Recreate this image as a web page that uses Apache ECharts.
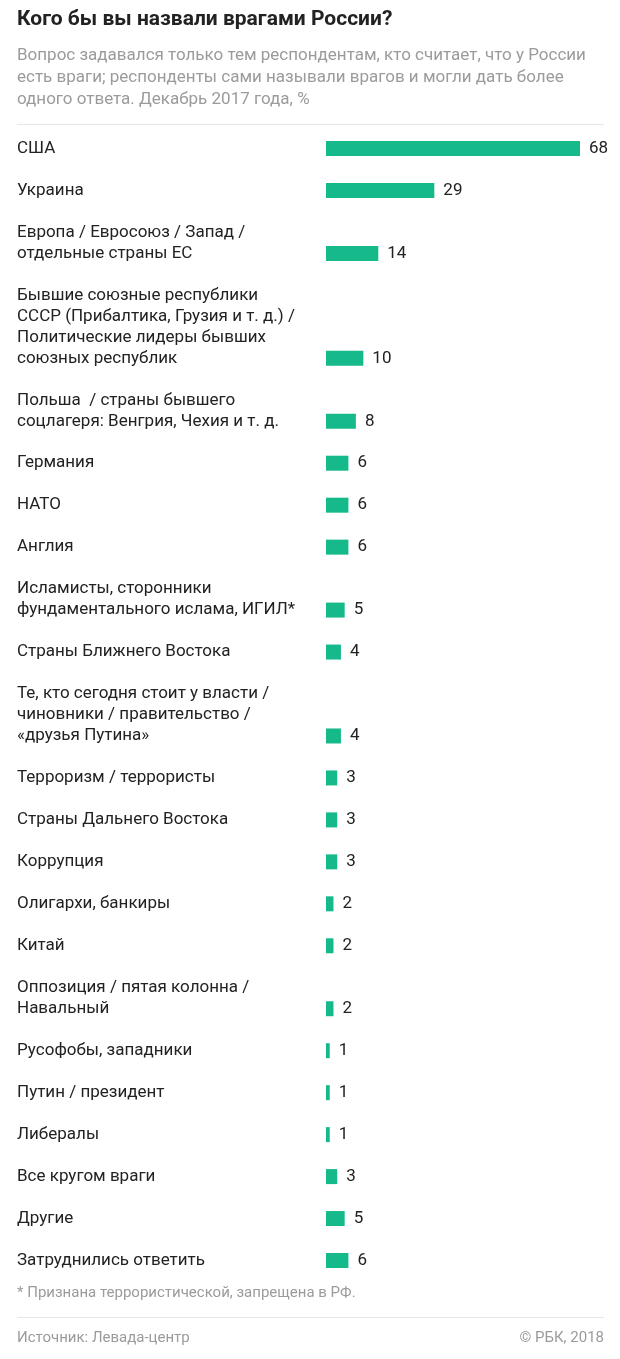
<!DOCTYPE html>
<html>
<head>
<meta charset="utf-8">
<title>Кого бы вы назвали врагами России?</title>
<script src="https://cdn.jsdelivr.net/npm/echarts@6/dist/echarts.min.js"></script>
<style>
    html, body { margin: 0; padding: 0; background: #fff; }
    #chart { width: 620px; height: 1359px; }
</style>
</head>
<body>
<div id="chart"></div>
<script>
// названия (перенос строки = \n, как на картинке)
var categories = [
    'США',
    'Украина',
    'Европа / Евросоюз / Запад /\nотдельные страны ЕС',
    'Бывшие союзные республики\nСССР (Прибалтика, Грузия и т. д.) /\nПолитические лидеры бывших\nсоюзных республик',
    'Польша  / страны бывшего\nсоцлагеря: Венгрия, Чехия и т. д.',
    'Германия',
    'НАТО',
    'Англия',
    'Исламисты, сторонники\nфундаментального ислама, ИГИЛ*',
    'Страны Ближнего Востока',
    'Те, кто сегодня стоит у власти /\nчиновники / правительство /\n«друзья Путина»',
    'Терроризм / террористы',
    'Страны Дальнего Востока',
    'Коррупция',
    'Олигархи, банкиры',
    'Китай',
    'Оппозиция / пятая колонна /\nНавальный',
    'Русофобы, западники',
    'Путин / президент',
    'Либералы',
    'Все кругом враги',
    'Другие',
    'Затруднились ответить'
];

var values = [68, 29, 14, 10, 8, 6, 6, 6, 5, 4, 4, 3, 3, 3, 2, 2, 2, 1, 1, 1, 3, 5, 6];

var titleText = 'Кого бы вы назвали врагами России?';
var subText = 'Вопрос задавался только тем респондентам, кто считает, что у России\n' +
    'есть враги; респонденты сами называли врагов и могли дать более\n' +
    'одного ответа. Декабрь 2017 года, %';
var noteText = '* Признана террористической, запрещена в РФ.';
var sourceText = 'Источник: Левада-центр';
var copyText = '© РБК, 2018';

var FONT = 'Roboto, "Noto Sans", sans-serif';

// раскладываем по строкам: у многострочной подписи столбец стоит на последней строке,
// между пунктами одна пустая строка
function buildSlots(){
    var ids = [], labels = [], data = [];
    for (var i = 0; i < categories.length; i++) {
        var lines = categories[i].split('\n');
        for (var k = 0; k < lines.length - 1; k++) {
            ids.push('s' + ids.length);
            labels.push('');
            data.push('-');
        }
        // добиваем пустыми строками снизу, чтобы последняя строка была по центру
        var txt = categories[i];
        for (var j = 0; j < lines.length - 1; j++) {
            txt += '\n ';
        }
        ids.push('s' + ids.length);
        labels.push(txt);
        data.push(values[i]);
        if (i < categories.length - 1) {
            ids.push('s' + ids.length);
            labels.push('');
            data.push('-');
        }
    }
    return {ids: ids, labels: labels, data: data};
}

var slots = buildSlots();
var labelMap = {};
slots.ids.forEach(function(id, i){ labelMap[id] = slots.labels[i]; });

var option = {
    backgroundColor: '#fff',
    textStyle: { fontFamily: FONT },
    animation: false,
    title: {
        text: titleText,
        subtext: subText,
        left: 17,
        top: 7,
        padding: 0,
        itemGap: 12,
        textStyle: {
            fontFamily: FONT,
            fontSize: 21,
            fontWeight: 'bold',
            color: '#222',
            lineHeight: 26
        },
        subtextStyle: {
            fontFamily: FONT,
            fontSize: 17,
            color: '#9b9b9b',
            lineHeight: 22
        }
    },
    grid: {
        left: 326,
        right: 40,
        top: 138,
        bottom: 88
    },
    xAxis: {
        type: 'value',
        min: 0,
        max: 68,
        show: false
    },
    yAxis: {
        type: 'category',
        inverse: true,
        data: slots.ids,
        axisLine: { show: false },
        axisTick: { show: false },
        splitLine: { show: false },
        axisLabel: {
            interval: 0,
            align: 'left',
            margin: 309,
            fontFamily: FONT,
            fontSize: 17,
            lineHeight: 21,
            color: '#222',
            formatter: function(id){ return labelMap[id]; }
        }
    },
    series: [
        {
            type: 'bar',
            data: slots.data,
            barWidth: 15,
            itemStyle: { color: '#16b98a' },
            label: {
                show: true,
                position: 'right',
                distance: 9,
                fontFamily: FONT,
                fontSize: 17,
                color: '#222'
            }
        }
    ],
    graphic: [
        {
            type: 'line',
            shape: { x1: 17, y1: 124.5, x2: 604, y2: 124.5 },
            style: { stroke: '#e6e6e6', lineWidth: 1 }
        },
        {
            type: 'text',
            style: { text: noteText, x: 17, y: 1293, fill: '#9b9b9b', font: '15px ' + FONT, verticalAlign: 'middle' }
        },
        {
            type: 'line',
            shape: { x1: 17, y1: 1317.5, x2: 604, y2: 1317.5 },
            style: { stroke: '#e6e6e6', lineWidth: 1 }
        },
        {
            type: 'text',
            style: { text: sourceText, x: 17, y: 1338, fill: '#9b9b9b', font: '15px ' + FONT, verticalAlign: 'middle' }
        },
        {
            type: 'text',
            style: { text: copyText, x: 604, y: 1338, fill: '#9b9b9b', font: '15px ' + FONT, align: 'right', verticalAlign: 'middle' }
        }
    ]
};

var myChart = echarts.init(document.getElementById('chart'));
myChart.setOption(option);
</script>
</body>
</html>
